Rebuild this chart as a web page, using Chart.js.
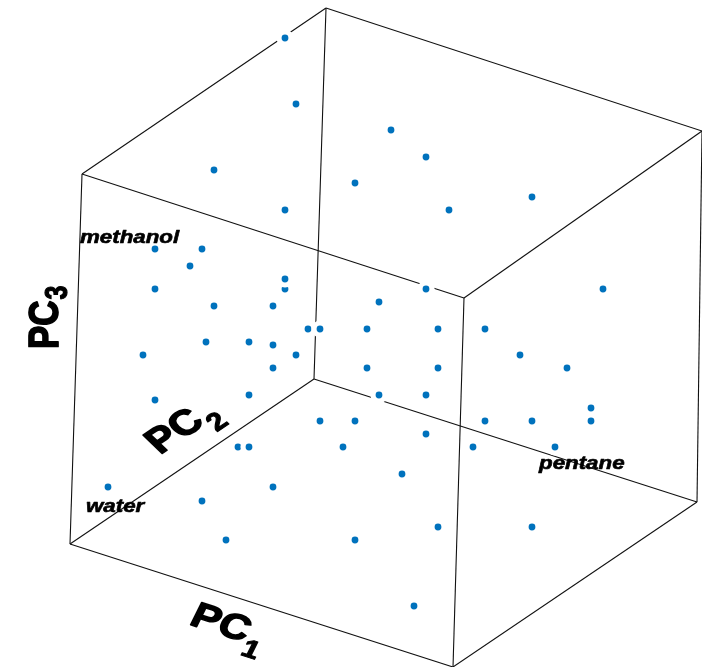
<!DOCTYPE html>
<html>
<head>
<meta charset="utf-8">
<script src="https://cdn.jsdelivr.net/npm/chart.js@4/dist/chart.umd.min.js"></script>
<style>
html,body{margin:0;padding:0;background:#fff;}
#wrap{width:702px;height:667px;}
</style>
</head>
<body>
<div id="wrap"><canvas id="c" width="702" height="667"></canvas></div>
<script>
// Projected (view-plane) coordinates of the samples
const projX = [285,296,391,426,214,355,532,285,449,155,202,190,285,285,155,426,603,379,214,273,
               308,320,367,438,485,206,249,273,143,296,520,273,367,438,567,249,379,426,155,591,
               320,355,485,532,591,426,238,249,343,473,555,402,108,273,202,438,532,226,355,414];
const projY = [38,104,130,157,170,183,197,210,210,249,249,266,289,279,289,289,289,302,306,306,
               329,329,329,329,329,342,342,345,355,355,355,368,368,368,368,395,395,395,400,408,
               421,421,421,421,421,434,447,447,447,447,447,474,487,487,501,527,527,540,540,606];

// Projected corners of the PC1/PC2/PC3 bounding box
const boxX = [82,464,453,70,326,702,697,314];
const boxY = [174,298,667,544,8,131,502,379];
const boxEdges = [[0,1],[1,2],[2,3],[3,0],[4,5],[5,6],[6,7],[7,4],[0,4],[1,5],[2,6],[3,7]];

// Annotated solvents
const solventNames = ['methanol','water','pentane'];
const solventX = [80,86,539];
const solventY = [243,512,469];

// Axis titles
const axisTitles = [
  {main:'PC', sub:'3', x:58, y:349, ang:-90, subDrop:7},
  {main:'PC', sub:'1', x:188, y:624, ang:21.7, subDrop:13},
  {main:'PC', sub:'2', x:160, y:455, ang:-40, subDrop:12}
];

const STRETCH = 1.24;
const FONT = '"Liberation Sans", Arial, Helvetica, sans-serif';

const pts = projX.map((x,i)=>({x:x, y:projY[i]}));
const edgeSets = boxEdges.map(e=>({
  type:'line',
  data:[{x:boxX[e[0]],y:boxY[e[0]]},{x:boxX[e[1]],y:boxY[e[1]]}],
  borderColor:'#111111', borderWidth:1.1, pointRadius:0, showLine:true, fill:false,
  order:1, clip:false
}));

const textPlugin = {
  id:'texts',
  afterDatasetsDraw(chart){
    const ctx = chart.ctx;
    const sx = chart.scales.x, sy = chart.scales.y;
    ctx.save();
    ctx.fillStyle = '#000';
    ctx.strokeStyle = '#000';
    ctx.lineJoin = 'round';
    ctx.textBaseline = 'alphabetic';
    ctx.textAlign = 'left';
    solventNames.forEach((n,i)=>{
      ctx.save();
      ctx.translate(sx.getPixelForValue(solventX[i]), sy.getPixelForValue(solventY[i]));
      ctx.scale(STRETCH,1);
      ctx.font = 'italic bold 18px ' + FONT;
      ctx.lineWidth = 0.6;
      ctx.fillText(n,0,0);
      ctx.strokeText(n,0,0);
      ctx.restore();
    });
    axisTitles.forEach(t=>{
      ctx.save();
      ctx.translate(sx.getPixelForValue(t.x), sy.getPixelForValue(t.y));
      ctx.scale(STRETCH,1);
      ctx.rotate(t.ang*Math.PI/180);
      ctx.lineWidth = 1.4;
      ctx.font = 'bold 35px ' + FONT;
      ctx.fillText(t.main,0,0);
      ctx.strokeText(t.main,0,0);
      const w = ctx.measureText(t.main).width;
      ctx.font = 'bold 25px ' + FONT;
      ctx.lineWidth = 1.0;
      ctx.fillText(t.sub, w+1, t.subDrop);
      ctx.strokeText(t.sub, w+1, t.subDrop);
      ctx.restore();
    });
    ctx.restore();
  }
};

new Chart(document.getElementById('c'), {
  type:'scatter',
  data:{
    datasets:[
      {
        data:pts,
        backgroundColor:'#0072BD',
        borderColor:'#ffffff',
        pointRadius:6.0,
        pointBorderWidth:5.2,
        pointHoverRadius:6.0,
        order:0,
        clip:false
      },
      ...edgeSets
    ]
  },
  options:{
    responsive:false,
    animation:false,
    devicePixelRatio:1,
    layout:{padding:0, autoPadding:false},
    plugins:{legend:{display:false}, tooltip:{enabled:false}},
    events:[],
    scales:{
      x:{type:'linear', min:0, max:702, display:false},
      y:{type:'linear', min:0, max:667, reverse:true, display:false}
    }
  },
  plugins:[textPlugin]
});
</script>
</body>
</html>
